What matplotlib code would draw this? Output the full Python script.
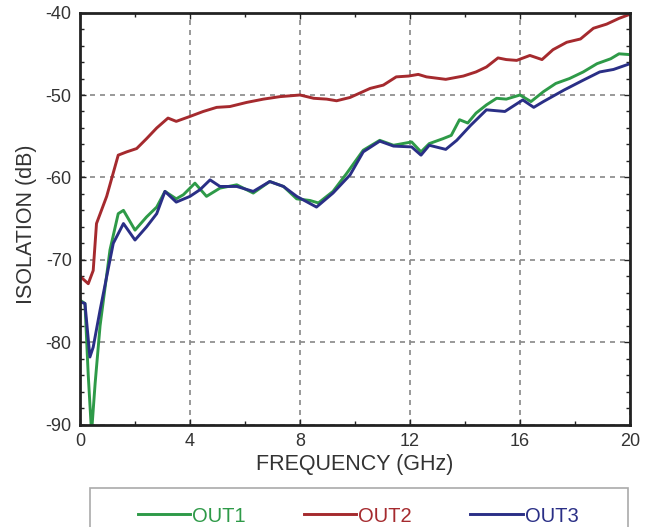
import matplotlib
matplotlib.use("Agg")
import matplotlib.pyplot as plt
from matplotlib.ticker import MultipleLocator
from matplotlib.patches import Rectangle

plt.rcParams['font.family'] = ['Liberation Sans', 'DejaVu Sans']
plt.rcParams['axes.unicode_minus'] = False

# OUT1 (green)
out1_f = [0, 0.18, 0.3, 0.42, 0.55, 0.73, 1.09, 1.39, 1.58, 2.0, 2.42, 2.79, 3.09, 3.5, 3.76, 4.18, 4.6, 5.09, 5.7, 6.3, 6.9, 7.4, 7.88, 8.36, 8.67, 9.2, 9.7, 10.3, 10.9, 11.4, 12.06, 12.4, 12.7, 13.2, 13.5, 13.8, 14.1, 14.4, 14.78, 15.15, 15.5, 16.0, 16.4, 16.85, 17.3, 17.8, 18.3, 18.8, 19.3, 19.6, 20.0]
out1_db = [-74.9, -75.3, -84, -91, -85, -78, -68.8, -64.4, -64, -66.4, -64.8, -63.6, -61.7, -62.6, -62.1, -60.7, -62.3, -61.3, -60.9, -61.9, -60.5, -61.1, -62.6, -62.8, -63.1, -61.7, -59.5, -56.7, -55.5, -56.1, -55.7, -56.9, -55.9, -55.3, -54.9, -53.0, -53.4, -52.2, -51.2, -50.4, -50.5, -50.0, -50.8, -49.6, -48.6, -48.0, -47.2, -46.2, -45.6, -45.0, -45.1]

# OUT2 (red)
out2_f = [0, 0.3, 0.48, 0.6, 0.97, 1.39, 1.7, 2.06, 2.42, 2.79, 3.2, 3.5, 4.0, 4.48, 4.97, 5.45, 6.06, 6.67, 7.27, 8.0, 8.5, 8.97, 9.33, 9.82, 10.55, 11.03, 11.5, 11.95, 12.3, 12.6, 13.3, 13.94, 14.4, 14.78, 15.2, 15.5, 15.88, 16.36, 16.8, 17.2, 17.7, 18.2, 18.67, 19.15, 19.6, 20.0]
out2_db = [-72.0, -72.9, -71.3, -65.6, -62.3, -57.3, -56.9, -56.5, -55.3, -54.0, -52.8, -53.2, -52.6, -52.0, -51.5, -51.4, -50.9, -50.5, -50.2, -50.0, -50.4, -50.5, -50.7, -50.3, -49.2, -48.8, -47.8, -47.7, -47.5, -47.8, -48.1, -47.7, -47.2, -46.6, -45.5, -45.7, -45.8, -45.2, -45.7, -44.5, -43.6, -43.2, -41.9, -41.4, -40.7, -40.2]

# OUT3 (blue)
out3_f = [0, 0.18, 0.36, 0.48, 0.73, 1.21, 1.58, 2.0, 2.42, 2.79, 3.09, 3.5, 4.0, 4.36, 4.73, 5.09, 5.7, 6.3, 6.9, 7.4, 7.88, 8.6, 9.2, 9.82, 10.3, 10.9, 11.4, 12.06, 12.4, 12.7, 13.3, 13.7, 14.2, 14.78, 15.45, 16.1, 16.5, 16.85, 17.6, 18.3, 18.9, 19.4, 20.0]
out3_db = [-75.1, -75.3, -81.8, -80.6, -76.1, -68.0, -65.6, -67.6, -66.0, -64.4, -61.7, -63.0, -62.3, -61.5, -60.3, -61.1, -61.1, -61.7, -60.5, -61.1, -62.3, -63.6, -61.9, -59.7, -56.9, -55.6, -56.2, -56.3, -57.3, -56.1, -56.6, -55.5, -53.7, -51.8, -52.0, -50.6, -51.5, -50.8, -49.4, -48.2, -47.2, -46.9, -46.2]

labels = ['OUT1', 'OUT2', 'OUT3']
colors = ['#2e9a48', '#a52a2e', '#2a2f86']

fig = plt.figure(figsize=(6.5, 5.27), dpi=100)
ax = fig.add_axes([80/650, 1-424.6/527, 550/650, (424.6-12.6)/527])

series = [(out1_f, out1_db), (out2_f, out2_db), (out3_f, out3_db)]
handles = []
for (f, d), c, lab in zip(series, colors, labels):
    h, = ax.plot(f, d, color=c, lw=2.1, label=lab, solid_joinstyle='round')
    handles.append(h)

ax.set_xlim(0, 20)
ax.set_ylim(-90, -40)
ax.xaxis.set_major_locator(MultipleLocator(4))
ax.xaxis.set_minor_locator(MultipleLocator(2))
ax.yaxis.set_major_locator(MultipleLocator(10))
ax.yaxis.set_minor_locator(MultipleLocator(2))
ax.tick_params(which='both', direction='in', top=True, right=True, colors='#222222', labelcolor='#333333', labelsize=13)
ax.tick_params(which='major', length=4, width=1)
ax.tick_params(which='minor', length=3, width=1)
ax.tick_params(axis='x', pad=6)
ax.tick_params(axis='y', pad=6)
ax.grid(True, which='major', linestyle=(0, (3, 3)), color='#888888', lw=1.2)
for s in ax.spines.values():
    s.set_linewidth(2)
    s.set_color('#222222')

ax.set_xlabel('FREQUENCY (GHz)', fontsize=15.5, color='#333333', labelpad=3)
ax.set_ylabel('ISOLATION (dB)', fontsize=15.5, color='#333333', labelpad=6)
ax.yaxis.label.set_position((0, 0.5 - 6/412))

# legend frame (extends past the bottom edge, as in the reference)
fig.patches.append(Rectangle((90/650, -0.05), 538/650, 0.05 + 1-488/527,
                             transform=fig.transFigure, fill=False,
                             edgecolor='#aaaaaa', lw=1.2))
leg = fig.legend(handles=handles, labels=labels, loc='center', ncol=3,
                 bbox_to_anchor=(358/650, 1-516/527), frameon=False, fontsize=14.5,
                 handlelength=2.6, handletextpad=0.1, columnspacing=2.9,
                 borderpad=0, borderaxespad=0)
for t, c in zip(leg.get_texts(), colors):
    t.set_color(c)

fig.savefig('out.png', dpi=100)
